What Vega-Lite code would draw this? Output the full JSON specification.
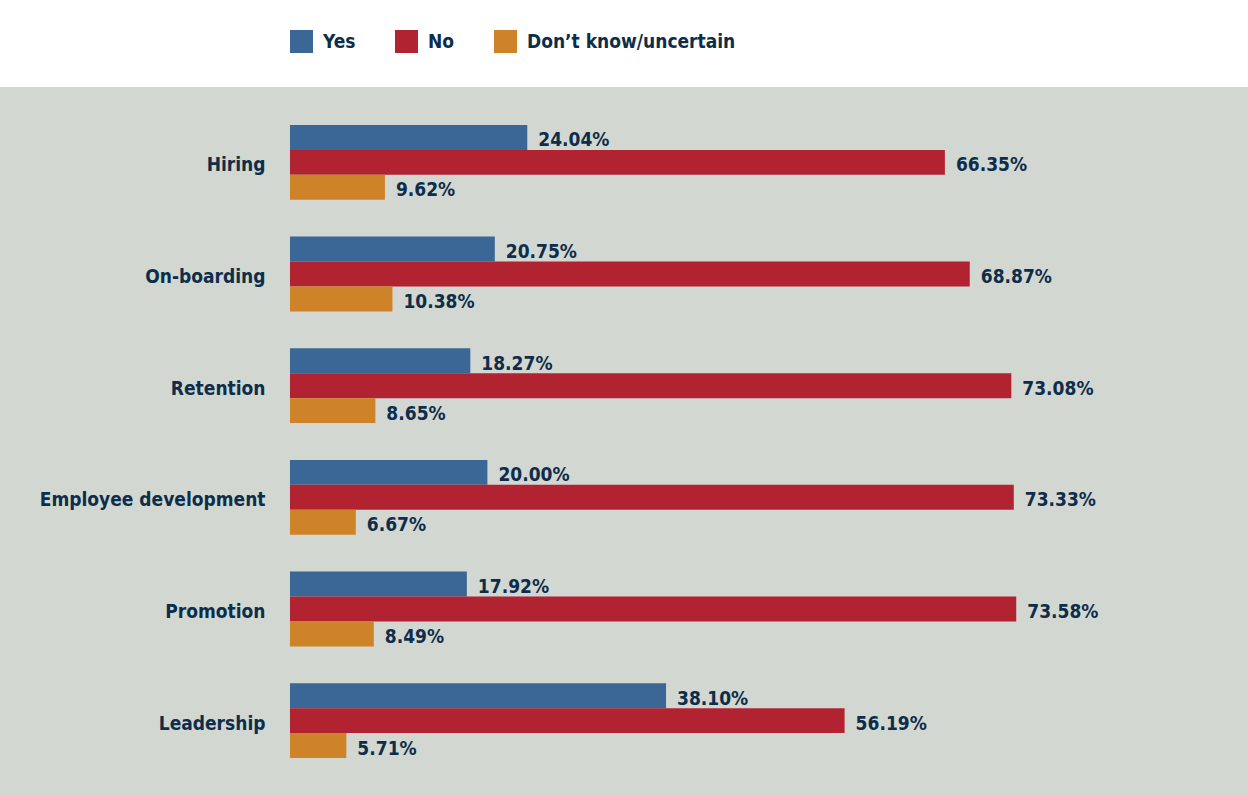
{
  "$schema": "https://vega.github.io/schema/vega-lite/v6.json",
  "width": 1248,
  "height": 709,
  "autosize": {"type": "none"},
  "padding": {"top": 87, "left": 0, "right": 0, "bottom": 0},
  "background": "#ffffff",
  "config": {
    "view": {"fill": "#d2d7d1", "stroke": null},
    "font": "Liberation Sans Narrow, DejaVu Sans Condensed, sans-serif"
  },
  "data": {
    "values": [
      {"category": "Hiring", "series": "Yes", "value": 0.2404},
      {"category": "Hiring", "series": "No", "value": 0.6635},
      {"category": "Hiring", "series": "Don’t know/uncertain", "value": 0.0962},
      {"category": "On-boarding", "series": "Yes", "value": 0.2075},
      {"category": "On-boarding", "series": "No", "value": 0.6887},
      {"category": "On-boarding", "series": "Don’t know/uncertain", "value": 0.1038},
      {"category": "Retention", "series": "Yes", "value": 0.1827},
      {"category": "Retention", "series": "No", "value": 0.7308},
      {"category": "Retention", "series": "Don’t know/uncertain", "value": 0.0865},
      {"category": "Employee development", "series": "Yes", "value": 0.2000},
      {"category": "Employee development", "series": "No", "value": 0.7333},
      {"category": "Employee development", "series": "Don’t know/uncertain", "value": 0.0667},
      {"category": "Promotion", "series": "Yes", "value": 0.1792},
      {"category": "Promotion", "series": "No", "value": 0.7358},
      {"category": "Promotion", "series": "Don’t know/uncertain", "value": 0.0849},
      {"category": "Leadership", "series": "Yes", "value": 0.3810},
      {"category": "Leadership", "series": "No", "value": 0.5619},
      {"category": "Leadership", "series": "Don’t know/uncertain", "value": 0.0571}
    ]
  },
  "encoding": {
    "y": {
      "field": "category",
      "type": "nominal",
      "sort": ["Hiring", "On-boarding", "Retention", "Employee development", "Promotion", "Leadership"],
      "scale": {"paddingInner": 0.33, "paddingOuter": 0.34},
      "axis": {
        "title": null,
        "domain": false,
        "ticks": false,
        "labelPadding": -265,
        "labelAlign": "right",
        "labelOffset": 3,
        "labelLimit": 0,
        "labelFontSize": 19,
        "labelFontWeight": "bold",
        "labelColor": "#0d2d4b",
        "labelFont": "Liberation Sans Narrow, DejaVu Sans Condensed, sans-serif"
      }
    },
    "yOffset": {
      "field": "series",
      "type": "nominal",
      "sort": ["Yes", "No", "Don’t know/uncertain"],
      "scale": {"paddingInner": 0, "paddingOuter": 0}
    },
    "x": {
      "field": "value",
      "type": "quantitative",
      "scale": {"domain": [-0.2938, 0.9706], "nice": false, "zero": false},
      "axis": null
    }
  },
  "layer": [
    {
      "mark": {"type": "bar"},
      "encoding": {
        "color": {
          "field": "series",
          "type": "nominal",
          "sort": ["Yes", "No", "Don’t know/uncertain"],
          "scale": {"domain": ["Yes", "No", "Don’t know/uncertain"], "range": ["#3a6795", "#b22332", "#cf8329"]},
          "legend": {
            "title": null,
            "orient": "none",
            "legendX": 290,
            "legendY": -57,
            "direction": "horizontal",
            "symbolType": "square",
            "symbolSize": 529,
            "symbolStrokeWidth": 0,
            "symbolOpacity": 1,
            "labelFontSize": 19,
            "labelFontWeight": "bold",
            "labelColor": "#0d2d4b",
            "labelOffset": 10,
            "labelLimit": 0,
            "columnPadding": 39,
            "labelFont": "Liberation Sans Narrow, DejaVu Sans Condensed, sans-serif"
          }
        },
        "x2": {"datum": 0}
      }
    },
    {
      "mark": {
        "type": "text",
        "align": "left",
        "baseline": "middle",
        "dx": 11,
        "dy": 3,
        "fontSize": 19,
        "fontWeight": "bold",
        "color": "#0d2d4b"
      },
      "encoding": {
        "text": {"field": "value", "type": "quantitative", "format": ".2%"}
      }
    }
  ]
}
